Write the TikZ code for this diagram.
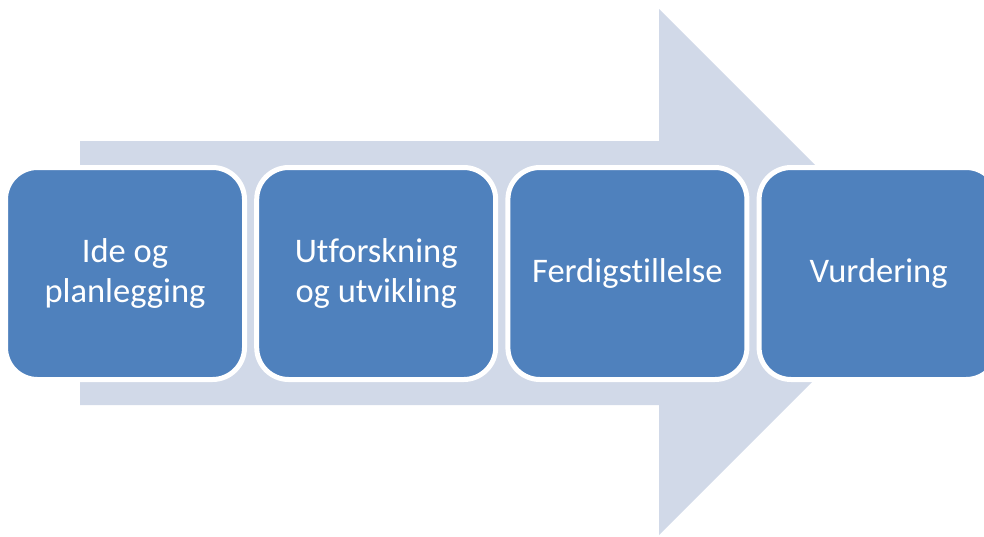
\documentclass[tikz,border=0pt]{standalone}
\usepackage{fontspec}
\setmainfont{Carlito}[Ligatures={NoCommon}]
\definecolor{arrowfill}{HTML}{D1D9E8}
\definecolor{boxfill}{HTML}{4F81BD}
\begin{document}
\begin{tikzpicture}[x=1pt,y=-1pt,
  stepbox/.style={draw=white, line width=5pt, fill=boxfill, rounded corners=32pt,
    minimum width=239pt, minimum height=212pt, inner sep=0pt,
    text=white, align=center, font=\fontsize{34.5}{40}\selectfont}]
\clip (0,0) rectangle (984,536);
\fill[arrowfill] (80,141) -- (659,141) -- (659,9) -- (922,272) -- (659,535) -- (659,405) -- (80,405) -- cycle;
\node[stepbox] (b1) at (125,273.5) {Ide og\\planlegging};
\node[stepbox] (b2) at (376.2,273.5) {Utforskning\\og utvikling};
\node[stepbox] (b3) at (627.4,273.5) {Ferdigstillelse};
\node[stepbox] (b4) at (878.6,273.5) {Vurdering};
\end{tikzpicture}
\end{document}
